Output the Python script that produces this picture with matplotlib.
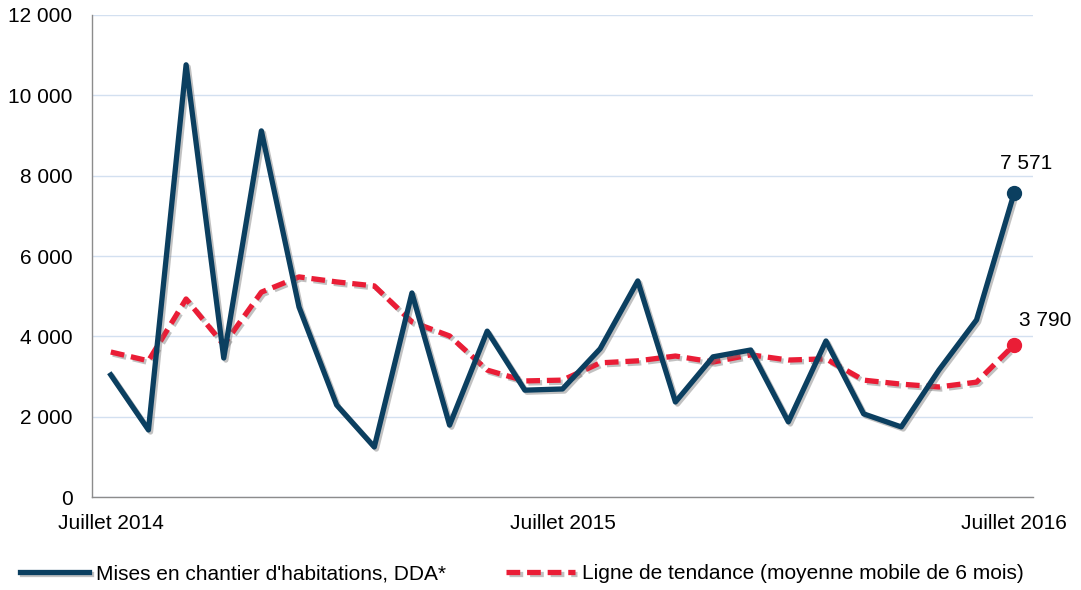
import matplotlib
matplotlib.use("Agg")
import matplotlib.pyplot as plt
import matplotlib.patheffects as pe
from matplotlib.ticker import FuncFormatter

plt.rcParams['font.family'] = ['Liberation Sans', 'DejaVu Sans']

# Données mensuelles, juillet 2014 -> juillet 2016
mois = list(range(25))
tick_pos = [0, 12, 24]
tick_labels = ['Juillet 2014', 'Juillet 2015', 'Juillet 2016']

mises_en_chantier = [3040, 1670, 10760, 3460, 9115, 4730, 2290, 1245, 5080, 1790,
                     4130, 2660, 2690, 3690, 5380, 2365, 3490, 3660, 1870, 3885,
                     2070, 1745, 3160, 4410, 7571]
tendance = [3610, 3390, 4930, 3790, 5100, 5480, 5355, 5255, 4360, 4010,
            3160, 2890, 2910, 3340, 3390, 3510, 3360, 3540, 3410, 3440,
            2910, 2810, 2740, 2860, 3790]

bleu = '#0b3f60'
rouge = '#ea1d36'


def fmt_milliers(v, pos=None):
    return f"{int(v):,}".replace(',', ' ')


fig = plt.figure(figsize=(10.81, 5.90), dpi=100)
ax = fig.add_axes([0.0851, 0.1576, 0.8705, 0.817])

ombre = [pe.SimpleLineShadow(offset=(1.5, -1.5), shadow_color='#777777', alpha=0.45),
         pe.Normal()]

ax.plot(mois, tendance, color=rouge, lw=3.8, dashes=(2.6, 1.3),
        label='Ligne de tendance (moyenne mobile de 6 mois)',
        path_effects=ombre, zorder=3)
ax.plot(mois, mises_en_chantier, color=bleu, lw=3.8,
        label="Mises en chantier d'habitations, DDA*",
        path_effects=ombre, zorder=4)

# points finaux
ax.plot(mois[-1], mises_en_chantier[-1], 'o', color=bleu, ms=10, zorder=5)
ax.plot(mois[-1], tendance[-1], 'o', color=rouge, ms=10, zorder=5)
ax.annotate(fmt_milliers(mises_en_chantier[-1]), (mois[-1], mises_en_chantier[-1]),
            xytext=(12, 20), textcoords='offset pixels', ha='center', va='bottom',
            fontsize=15)
ax.annotate(fmt_milliers(tendance[-1]), (mois[-1], tendance[-1]),
            xytext=(31, 15), textcoords='offset pixels', ha='center', va='bottom',
            fontsize=15)

ax.set_xlim(-0.5, 24.5)
ax.set_ylim(0, 12000)
ax.set_yticks(range(0, 12001, 2000))
ax.yaxis.set_major_formatter(FuncFormatter(fmt_milliers))
ax.set_xticks(tick_pos)
ax.set_xticklabels(tick_labels)
ax.tick_params(axis='both', length=0, labelsize=15, colors='black')
ax.tick_params(axis='y', pad=14)
ax.tick_params(axis='x', pad=12)

ax.grid(axis='y', color='#d3e0f0', lw=1)
ax.set_axisbelow(True)
for s in ['top', 'right']:
    ax.spines[s].set_visible(False)
for s in ['left', 'bottom']:
    ax.spines[s].set_color('#8c8c8c')
    ax.spines[s].set_linewidth(1)

h, l = ax.get_legend_handles_labels()
fig.legend(h[::-1], l[::-1], loc='lower center', bbox_to_anchor=(0.483, -0.02), ncol=2,
           frameon=False, fontsize=15, handlelength=3.3, handletextpad=0.35,
           columnspacing=2.9)

fig.savefig('out.png', dpi=100)
